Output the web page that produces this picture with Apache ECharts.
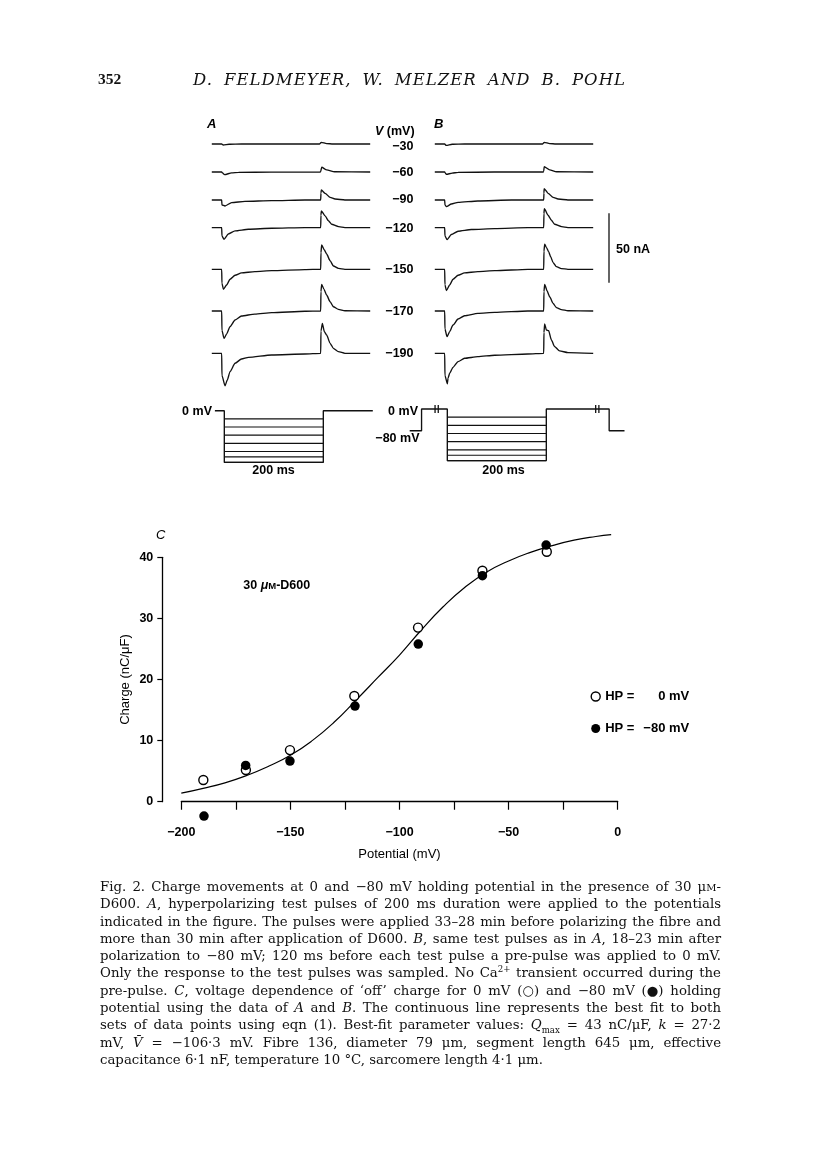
<!DOCTYPE html>
<html>
<head>
<meta charset="utf-8">
<script src="https://cdn.jsdelivr.net/npm/echarts@6/dist/echarts.min.js"></script>
<style>
html,body{margin:0;padding:0;background:#fff;}
#page{position:relative;width:816px;height:1160px;overflow:hidden;background:#fff;}
#chart{position:absolute;left:0;top:0;width:816px;height:1160px;}
.serif{font-family:"DejaVu Serif","Liberation Serif",serif;color:#111;}
#pnum{position:absolute;left:98px;top:70px;font-size:15.5px;font-weight:bold;font-family:"Liberation Serif",serif;color:#111;}
#ptitle{position:absolute;left:193px;top:70px;font-size:16.5px;font-style:italic;white-space:nowrap;}
#caption{position:absolute;left:100px;top:878px;width:621px;font-size:13.3px;line-height:17.3px;}
#caption .ln{white-space:nowrap;height:17.3px;}
#caption .ln span.t{display:inline-block;}
#caption sup,#caption sub{font-size:0.65em;line-height:0;}
.sc{font-size:0.75em;}
</style>
</head>
<body>
<div id="page">
  <div id="chart"></div>
  <div id="pnum">352</div>
  <div id="ptitle" class="serif"><span id="ptitleSpan">D. FELDMEYER, W. MELZER AND B. POHL</span></div>
  <div id="caption" class="serif">
    <div class="ln"><span class="t">Fig. 2. Charge movements at 0 and −80 mV holding potential in the presence of 30 μ<span class="sc">M</span>-</span></div>
    <div class="ln"><span class="t">D600. <i>A</i>, hyperpolarizing test pulses of 200 ms duration were applied to the potentials</span></div>
    <div class="ln"><span class="t">indicated in the figure. The pulses were applied 33–28 min before polarizing the fibre and</span></div>
    <div class="ln"><span class="t">more than 30 min after application of D600. <i>B</i>, same test pulses as in <i>A</i>, 18–23 min after</span></div>
    <div class="ln"><span class="t">polarization to −80 mV; 120 ms before each test pulse a pre-pulse was applied to 0 mV.</span></div>
    <div class="ln"><span class="t">Only the response to the test pulses was sampled. No Ca<sup>2+</sup> transient occurred during the</span></div>
    <div class="ln"><span class="t">pre-pulse. <i>C</i>, voltage dependence of ‘off’ charge for 0 mV (○) and −80 mV (●) holding</span></div>
    <div class="ln"><span class="t">potential using the data of <i>A</i> and <i>B</i>. The continuous line represents the best fit to both</span></div>
    <div class="ln"><span class="t">sets of data points using eqn (1). Best-fit parameter values: <i>Q</i><sub>max</sub> = 43 nC/μF, <i>k</i> = 27·2</span></div>
    <div class="ln"><span class="t">mV, <i>V̄</i> = −106·3 mV. Fibre 136, diameter 79 μm, segment length 645 μm, effective</span></div>
    <div class="ln last"><span class="t">capacitance 6·1 nF, temperature 10 °C, sarcomere length 4·1 μm.</span></div>
  </div>
</div>
<script>
// ---------------- DATA ----------------
// Test potentials (mV) of panels A and B
const testPotentials = [-30, -60, -90, -120, -150, -170, -190];

// Panel A current traces: [time (ms, from test-pulse onset), current (nA)]
const A_m30  = [[-20,0],[0,0],[3,-0.7],[15,-0.2],[40,0],[198,0],[201,1.2],[212,0.3],[225,0],[300,0]];
const A_m60  = [[-20,0],[0,0],[1,-0.5],[6,-1.9],[20,-0.6],[34,-0.3],[100,-0.1],[199,0],[200,0.5],[202,3.4],[212,1.5],[228,0.2],[300,0]];
const A_m90  = [[-20,0],[0,0],[0.5,-3.6],[6.7,-4.3],[20,-1.9],[47,-1],[101,-0.5],[168,0],[200,0],[200.5,5],[201.3,7.2],[209,4.8],[219,1.9],[229,0.7],[249,0],[300,0]];
const A_m120 = [[-20,0],[0,0],[0.5,-6],[4.7,-8.4],[13.4,-4.6],[27,-2.4],[54,-1.2],[101,-0.5],[168,0],[200,0],[200.5,9],[201.3,12],[209,8.4],[215.5,5],[222,2.4],[236,0.7],[249,0],[300,0]];
const A_m150 = [[-20,0],[0,0],[0.5,-10],[3.4,-14.4],[10,-11.3],[16.8,-7.2],[27,-4.3],[40,-2.6],[67,-1.7],[101,-1],[168,-0.2],[200,0],[200.5,12],[202,17.5],[207.4,13.9],[212,11],[219,6.2],[225.6,2.4],[235.7,0.7],[249,0],[300,0]];
const A_m170 = [[-20,0],[0,0],[0.5,-14],[4.7,-19.7],[10,-16.6],[16.8,-11.3],[27,-6.5],[40,-3.6],[67,-2.2],[101,-1.2],[168,-0.2],[200,0],[200.5,14],[202,19.2],[206.7,15.6],[212,11.5],[219,6.7],[225.6,3.1],[235.7,1.2],[249,0.2],[300,0]];
const A_m190 = [[-20,0],[0,0],[0.5,-16],[6.7,-23.5],[11.4,-19.2],[16.8,-13.2],[27,-7.2],[40,-4.1],[54,-2.9],[101,-1.2],[168,-0.5],[200,0],[200.5,16],[203.4,21.6],[207.4,15.6],[212,13.2],[219,7.2],[225.6,3.6],[235.7,1.2],[249,0],[300,0]];

// Panel B current traces
const B_m30  = [[-20,0],[0,0],[3,-1],[15,-0.2],[40,0],[198,0],[201,1.2],[212,0.3],[225,0],[300,0]];
const B_m60  = [[-20,0],[0,0],[1,-0.6],[3.4,-1.7],[15,-0.8],[27,-0.3],[100,0],[199,0],[200,0.5],[201,3.8],[212,1.5],[226,0.2],[300,0]];
const B_m90  = [[-20,0],[0,0],[0.5,-3.5],[3.4,-4.8],[13.4,-2.9],[27,-1.7],[67,-0.7],[135,0],[200,0],[200.5,5],[200.9,8.2],[209,4.8],[219,1.9],[229,0.7],[249,0],[300,0]];
const B_m120 = [[-20,0],[0,0],[0.5,-6],[4.7,-8.6],[13.4,-5],[27,-2.6],[54,-1.4],[101,-0.7],[168,0],[200,0],[200.5,10],[201.3,13.7],[209,8.9],[215.5,5.3],[222,2.4],[236,0.7],[249,0],[300,0]];
const B_m150 = [[-20,0],[0,0],[0.5,-11],[3.4,-15.4],[10,-11.3],[16.8,-7.2],[27,-4.3],[40,-2.6],[67,-1.7],[101,-1],[168,0],[200,0],[200.5,13],[202,18.2],[205.4,15.8],[210,12.7],[214,9.1],[219,4.8],[225.6,1.9],[235.7,0.5],[249,0],[300,0]];
const B_m170 = [[-20,0],[0,0],[0.5,-13],[4.7,-18.5],[10,-14.9],[16.8,-10.1],[27,-5.8],[40,-3.4],[67,-1.7],[101,-1],[168,0],[200,0],[200.5,14],[202,19.2],[206.7,14.6],[212,10.3],[219,5.5],[225.6,2.4],[235.7,1],[249,0.2],[300,0]];
const B_m190 = [[-20,0],[0,0],[0.5,-16],[5.4,-22],[6.7,-18],[10,-14.4],[16.8,-10.1],[27,-6],[40,-3.6],[67,-2.4],[101,-1.4],[168,-0.5],[200,0],[200.5,15],[202,21.1],[205.4,16.8],[210,16.3],[215.5,9.6],[222,4.8],[232,1.7],[249,0.5],[300,0]];

// Voltage protocols: [time (ms, schematic), potential (mV)]
const protoA = [[-19,0],[0,0],[0,-190],[200,-190],[200,0],[300,0]];
const protoB = [[-76,-80],[-52,-80],[-52,0],[0,0],[0,-190],[200,-190],[200,0],[327,0],[327,-80],[358,-80]];
const protoBBreaks = [[-21.5,0],[303,0]];
const pulseDuration = 200;

// Panel C: 'off' charge vs potential
const hp0V  = [-189.9, -170.4, -150.2, -120.7, -91.5, -62.0, -32.5];
const hp0Q  = [3.55, 5.2, 8.45, 17.3, 28.5, 37.8, 40.9];
const hp80V = [-189.6, -170.5, -150.2, -120.4, -91.4, -62.0, -32.8];
const hp80Q = [-2.35, 5.95, 6.65, 15.65, 25.8, 37.0, 42.0];
// Best-fit curve
const fitV = [-200, -190, -180, -170, -160, -150, -140, -130, -120, -110, -100, -90, -80, -70, -60, -50, -40, -30, -20, -10, -3];
const fitQ = [1.4, 2.2, 3.1, 4.3, 5.8, 7.6, 10.0, 13.0, 16.6, 20.3, 24.0, 28.1, 31.9, 35.1, 37.6, 39.4, 40.8, 41.9, 42.8, 43.4, 43.7];

// ---------------- LAYOUT / STYLE ----------------
const tracesA = [A_m30, A_m60, A_m90, A_m120, A_m150, A_m170, A_m190];
const tracesB = [B_m30, B_m60, B_m90, B_m120, B_m150, B_m170, B_m190];
const baseY = [144, 172, 200, 227.6, 269.3, 311, 353.3];   // trace baselines (px)
const pxPerNA = 1.387, pxPerMs = 0.495, pxPerMV = 0.272;

const SANS = '"Liberation Sans", Arial, Helvetica, sans-serif';
const INK = '#111';
const fmt = v => v < 0 ? '\u2212' + Math.abs(v) : String(v);

const grids = [], xAxes = [], yAxes = [], series = [];
function addGrid(g, xa, ya) {
  grids.push(Object.assign({containLabel: false}, g));
  const gi = grids.length - 1;
  xAxes.push(Object.assign({type: 'value', gridIndex: gi, splitLine: {show: false}}, xa));
  yAxes.push(Object.assign({type: 'value', gridIndex: gi, splitLine: {show: false}}, ya));
  return gi;
}
const axLine = {color: '#000', width: 1.3};

// Panel C data grid (x axis)
const gC = addGrid({left: 181.3, top: 529.8, width: 436.4, height: 286},
  {min: -200, max: 0, interval: 25, position: 'bottom',
   axisLine: {show: true, lineStyle: axLine},
   axisTick: {show: true, inside: false, length: 8, lineStyle: {color: '#000', width: 1.2}},
   axisLabel: {margin: 10, color: '#000', fontFamily: SANS, fontSize: 12.5, fontWeight: 'bold',
     formatter: v => (v % 50 === 0 ? fmt(v) : '')},
   name: 'Potential (mV)', nameLocation: 'middle', nameGap: 32,
   nameTextStyle: {color: '#000', fontFamily: SANS, fontSize: 13}},
  {min: -2.3, max: 44.5, show: false});
// Panel C y axis (0..40)
const gCy = addGrid({left: 162.3, top: 557.3, width: 20, height: 244.4},
  {min: 0, max: 1, show: false},
  {min: 0, max: 40, interval: 10, position: 'left',
   axisLine: {show: true, lineStyle: axLine},
   axisTick: {show: true, inside: false, length: 5, lineStyle: {color: '#000', width: 1.2}},
   axisLabel: {margin: 9, color: '#000', fontFamily: SANS, fontSize: 12.5, fontWeight: 'bold', formatter: fmt},
   name: 'Charge (nC/μF)', nameLocation: 'middle', nameGap: 30, nameRotate: 90,
   nameTextStyle: {color: '#000', fontFamily: SANS, fontSize: 13}});

series.push({type: 'line', xAxisIndex: gC, yAxisIndex: gC, data: fitV.map((v, i) => [v, fitQ[i]]),
  smooth: 0.5, showSymbol: false, silent: true, z: 2, lineStyle: {color: '#000', width: 1.2}});
series.push({type: 'scatter', name: 'HP = 0 mV', xAxisIndex: gC, yAxisIndex: gC, clip: false,
  data: hp0V.map((v, i) => [v, hp0Q[i]]), symbol: 'circle', symbolSize: 9, z: 3,
  itemStyle: {color: '#fff', borderColor: '#000', borderWidth: 1.4, opacity: 1}});
series.push({type: 'scatter', name: 'HP = \u221280 mV', xAxisIndex: gC, yAxisIndex: gC, clip: false,
  data: hp80V.map((v, i) => [v, hp80Q[i]]), symbol: 'circle', symbolSize: 9.5, z: 4,
  itemStyle: {color: '#000', opacity: 1}});

// Panels A and B traces
function addTraces(traces, left) {
  traces.forEach((tr, i) => {
    const g = addGrid({left: left, top: baseY[i] - 30 * pxPerNA, width: 320 * pxPerMs, height: 60 * pxPerNA},
      {min: -20, max: 300, show: false}, {min: -30, max: 30, show: false});
    series.push({type: 'line', xAxisIndex: g, yAxisIndex: g, data: tr, showSymbol: false, silent: true,
      smooth: 0.2, smoothMonotone: 'x', lineStyle: {color: INK, width: 1.35}});
  });
}
addTraces(tracesA, 221.7 - 20 * pxPerMs);
addTraces(tracesB, 444.7 - 20 * pxPerMs);

// Voltage protocols
function addProtocol(outline, xmin, xmax, left, zeroY, breaks) {
  const g = addGrid({left: left, top: zeroY - 10 * pxPerMV, width: (xmax - xmin) * pxPerMs, height: 210 * pxPerMV},
    {min: xmin, max: xmax, show: false}, {min: -200, max: 10, show: false});
  series.push({type: 'line', xAxisIndex: g, yAxisIndex: g, data: outline, showSymbol: false, silent: true,
    lineStyle: {color: INK, width: 1.35}});
  testPotentials.forEach(v => {
    series.push({type: 'line', xAxisIndex: g, yAxisIndex: g, data: [[0, v], [pulseDuration, v]],
      showSymbol: false, silent: true, lineStyle: {color: INK, width: 1.2}});
  });
  if (breaks) {
    series.push({type: 'scatter', xAxisIndex: g, yAxisIndex: g, data: breaks, silent: true,
      symbol: 'path://M0 0h1.3v10h-1.3zM3.2 0h1.3v10h-1.3z', symbolSize: [4.5, 8], itemStyle: {color: INK, opacity: 1}});
  }
}
addProtocol(protoA, -20, 300, 224.3 - 20 * pxPerMs, 410.7, null);
addProtocol(protoB, -80, 360, 447.3 - 80 * pxPerMs, 409, protoBBreaks);

// ---------------- TEXT ANNOTATIONS ----------------
const T = (x, y, text, opt) => Object.assign({type: 'text', x: x, y: y, silent: true,
  style: Object.assign({text: text, fill: '#000', font: '13px ' + SANS, align: 'left', verticalAlign: 'middle'}, opt || {})});
const graphics = [];
graphics.push(T(207, 124, 'A', {font: 'italic bold 13px ' + SANS}));
graphics.push(T(434, 124.5, 'B', {font: 'italic bold 13px ' + SANS}));
graphics.push(T(375, 132, '{i|V} (mV)', {font: 'bold 12.5px ' + SANS,
  rich: {i: {font: 'italic bold 12.5px ' + SANS, fill: '#000'}}}));
const labelY = [146.7, 172.7, 200, 228.3, 270, 311.7, 354];
testPotentials.forEach((v, i) => graphics.push(T(413.5, labelY[i], fmt(v), {align: 'right', font: 'bold 12.5px ' + SANS})));
// 50 nA scale bar
graphics.push({type: 'line', silent: true, shape: {x1: 609, y1: 213.3, x2: 609, y2: 213.3 + 50 * pxPerNA},
  style: {stroke: INK, lineWidth: 1.3}});
graphics.push(T(616, 250, '50 nA', {font: 'bold 12.5px ' + SANS}));
// protocol labels
graphics.push(T(212, 412, '0 mV', {align: 'right', font: 'bold 12.5px ' + SANS}));
graphics.push(T(273.5, 471, '200 ms', {align: 'center', font: 'bold 12.5px ' + SANS}));
graphics.push(T(418, 411.7, '0 mV', {align: 'right', font: 'bold 12.5px ' + SANS}));
graphics.push(T(419.5, 438.7, '\u221280 mV', {align: 'right', font: 'bold 12.5px ' + SANS}));
graphics.push(T(503.5, 471, '200 ms', {align: 'center', font: 'bold 12.5px ' + SANS}));
// panel C labels
graphics.push(T(156, 535, 'C', {font: 'italic 13px ' + SANS}));
graphics.push(T(243.3, 586, '30 {m|μ}{s|M}-D600', {font: 'bold 12.5px ' + SANS,
  rich: {m: {font: 'italic bold 12.5px ' + SANS, fill: '#000'}, s: {font: 'bold 9.5px ' + SANS, fill: '#000'}}}));

const option = {
  animation: false,
  backgroundColor: '#fff',
  grid: grids, xAxis: xAxes, yAxis: yAxes, series: series,
  legend: {
    show: true, orient: 'vertical', left: 590.5, top: 690, padding: 0, itemWidth: 9, itemHeight: 9, itemGap: 19,
    selectedMode: false,
    data: [
      {name: 'HP = 0 mV', icon: 'circle', itemStyle: {color: '#fff', borderColor: '#000', borderWidth: 1.4, opacity: 1}},
      {name: 'HP = \u221280 mV', icon: 'circle', itemStyle: {color: '#000', opacity: 1}}
    ],
    formatter: n => { const p = n.split('= '); return '{h|' + p[0] + '=}{v|' + p[1] + '}'; },
    textStyle: {color: '#000', fontFamily: SANS, fontSize: 13, fontWeight: 'bold',
      rich: {h: {width: 31, fontFamily: SANS, fontSize: 13, fontWeight: 'bold', color: '#000'},
             v: {width: 53, align: 'right', fontFamily: SANS, fontSize: 13, fontWeight: 'bold', color: '#000'}}}
  },
  graphic: graphics
};

const chart = echarts.init(document.getElementById('chart'), null, {renderer: 'canvas', width: 816, height: 1160});
chart.setOption(option);

// ---------------- caption / running-head fitting ----------------
(function () {
  const target = 621;
  document.querySelectorAll('#caption .ln').forEach(ln => {
    if (ln.classList.contains('last')) return;
    const sp = ln.querySelector('span.t');
    const w = sp.getBoundingClientRect().width;
    const n = (sp.textContent.match(/ /g) || []).length;
    if (n > 0) sp.style.wordSpacing = ((target - w) / n) + 'px';
  });
  const ts = document.getElementById('ptitleSpan');
  const tw = ts.getBoundingClientRect().width;
  const nChars = ts.textContent.length - 1;
  const nSp = (ts.textContent.match(/ /g) || []).length;
  const extra = 432 - tw;
  const ls = Math.max(0, extra * 0.55 / nChars);
  ts.style.letterSpacing = ls + 'px';
  ts.style.wordSpacing = ((extra - ls * nChars) / nSp) + 'px';
})();
</script>
</body>
</html>
